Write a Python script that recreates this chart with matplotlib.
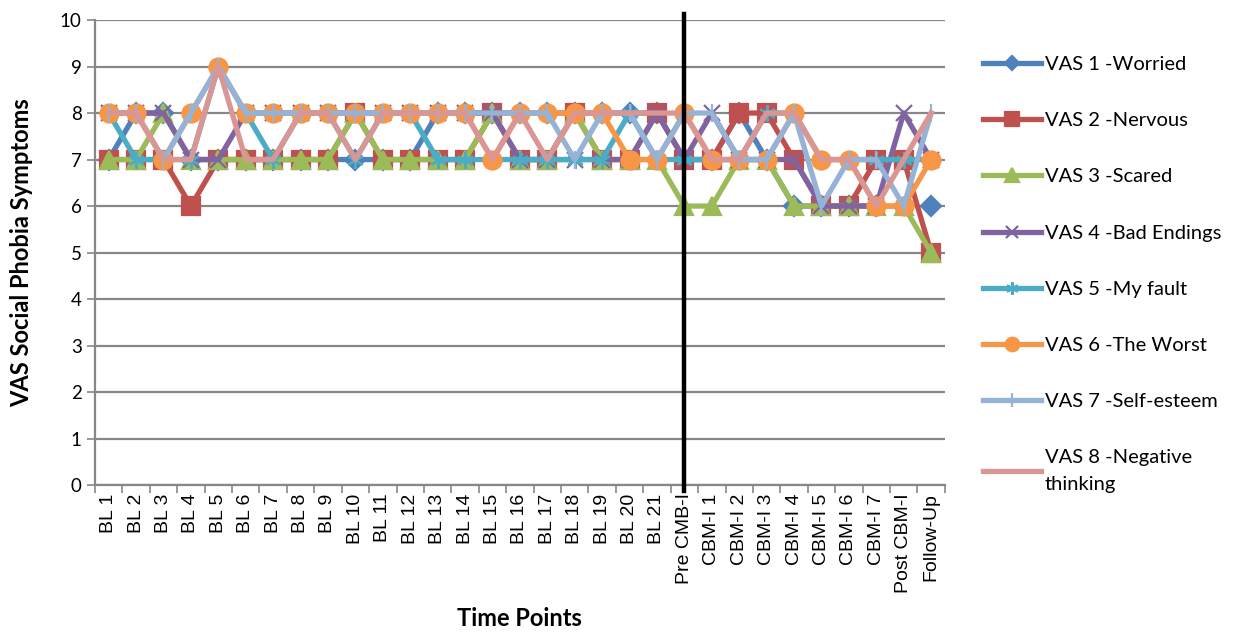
import matplotlib.pyplot as plt
import numpy as np

plt.rcParams['font.family'] = ['Lato', 'DejaVu Sans']

time_points = ['BL 1', 'BL 2', 'BL 3', 'BL 4', 'BL 5', 'BL 6', 'BL 7', 'BL 8',
               'BL 9', 'BL 10', 'BL 11', 'BL 12', 'BL 13', 'BL 14', 'BL 15',
               'BL 16', 'BL 17', 'BL 18', 'BL 19', 'BL 20', 'BL 21',
               'Pre CMB-I', 'CBM-I 1', 'CBM-I 2', 'CBM-I 3', 'CBM-I 4',
               'CBM-I 5', 'CBM-I 6', 'CBM-I 7', 'Post CBM-I', 'Follow-Up']

nan = np.nan
vas1_worried = [7, 8, 8, 7, 7, 7, 7, 7, 7, 7, 7, 7, 8, 8, 8, 8, 8, 8, 8, 8, 8,
                7, 7, 8, 7, 6, 6, 6, 6, nan, 6]
vas2_nervous = [7, 7, 7, 6, 7, 7, 7, 7, 7, 8, 7, 7, 7, 7, 8, 7, 7, 8, 7, 7, 8,
                7, 7, 8, 8, 7, 6, 6, 7, 7, 5]
vas3_scared = [7, 7, 8, 7, 7, 7, 7, 7, 7, 8, 7, 7, 7, 7, 8, 7, 7, 8, 7, 7, 7,
               6, 6, 7, 7, 6, 6, 6, 6, 6, 5]
vas4_bad_endings = [8, 8, 8, 7, 7, 8, 8, 8, 8, 8, 8, 8, 8, 8, 8, 7, 7, 7, 7, 7, 8,
                    7, 8, 7, 7, 7, 6, 6, 6, 8, 7]
vas5_my_fault = [8, 7, 7, 7, 9, 8, 7, 8, 8, 7, 8, 8, 7, 7, 7, 7, 7, 7, 7, 8, 7,
                 7, 7, 7, 8, 8, 7, 7, 7, 7, 7]
vas6_the_worst = [8, 8, 7, 8, 9, 8, 8, 8, 8, 8, 8, 8, 8, 8, 7, 8, 8, 8, 8, 7, 7,
                  8, 7, 7, 7, 8, 7, 7, 6, 6, 7]
vas7_self_esteem = [8, 8, 7, 8, 9, 8, 8, 8, 8, 8, 8, 8, 8, 8, 8, 8, 8, 7, 8, 8, 7,
                    8, 8, 7, 7, 8, 6, 7, 7, 6, 8]
vas8_negative = [8, 8, 7, 7, 9, 7, 7, 8, 8, 7, 8, 8, 8, 8, 7, 8, 7, 8, 8, 8, 8,
                 8, 7, 7, 8, 8, 7, 7, 6, 7, 8]

series = [
    ('VAS 1 -Worried', vas1_worried, '#4F81BD', 'D', 10),
    ('VAS 2 -Nervous', vas2_nervous, '#C0504D', 's', 13),
    ('VAS 3 -Scared', vas3_scared, '#9BBB59', '^', 13),
    ('VAS 4 -Bad Endings', vas4_bad_endings, '#8064A2', 'x', 11),
    ('VAS 5 -My fault', vas5_my_fault, '#4BACC6', (6, 2, 0), 12),
    ('VAS 6 -The Worst', vas6_the_worst, '#F79646', 'o', 13),
    ('VAS 7 -Self-esteem', vas7_self_esteem, '#95B3D7', '|', 13),
    ('VAS 8 -Negative\nthinking', vas8_negative, '#D99694', None, 0),
]

fig = plt.figure(figsize=(12.38, 6.35), dpi=100)
ax = fig.add_axes([0.0767, 0.236, 0.6865, 0.7325])

x = np.arange(len(time_points))
for label, values, color, marker, msize in series:
    ax.plot(x, values, color=color, linewidth=3.8, marker=marker,
            markersize=msize, markeredgewidth=1.6, markerfacecolor=color,
            markeredgecolor=color, label=label)

# marker for the start of the intervention
ax.axvline(21, ymin=-0.012, ymax=1.012, color='black', linewidth=3.2,
           clip_on=False, zorder=5)

ax.set_xlim(-0.5, len(time_points) - 0.5)
ax.set_ylim(0, 10)
ax.set_yticks(range(0, 11))
ax.grid(axis='y', color='#878787', linewidth=1.6)
ax.set_axisbelow(True)

ax.set_xticks(x)
ax.set_xticklabels(time_points, rotation=90, fontsize=14,
                   family='Liberation Sans')
ax.set_xticks(np.arange(-0.5, len(time_points), 1), minor=True)
ax.tick_params(axis='x', which='major', length=0, pad=6)
ax.tick_params(axis='x', which='minor', length=6, color='#878787', width=1.2)
ax.tick_params(axis='y', length=6, color='#878787', width=1.2, labelsize=13.5)

for side in ['top', 'right']:
    ax.spines[side].set_visible(False)
for side in ['left', 'bottom']:
    ax.spines[side].set_color('#878787')
    ax.spines[side].set_linewidth(1.6)

ax.set_ylabel('VAS Social Phobia Symptoms', fontsize=17, fontweight='bold',
              labelpad=19)
ax.set_xlabel('Time Points', fontsize=17, fontweight='bold', labelpad=10)

leg = ax.legend(loc='upper left', bbox_to_anchor=(1.035, 0.94), frameon=False,
                fontsize=14.5, handlelength=2.9, handletextpad=0.2,
                labelspacing=1.94, borderaxespad=0, markerscale=0.75)
for t in leg.get_texts():
    t.set_linespacing(1.7)

fig.savefig('out.png', dpi=100)
